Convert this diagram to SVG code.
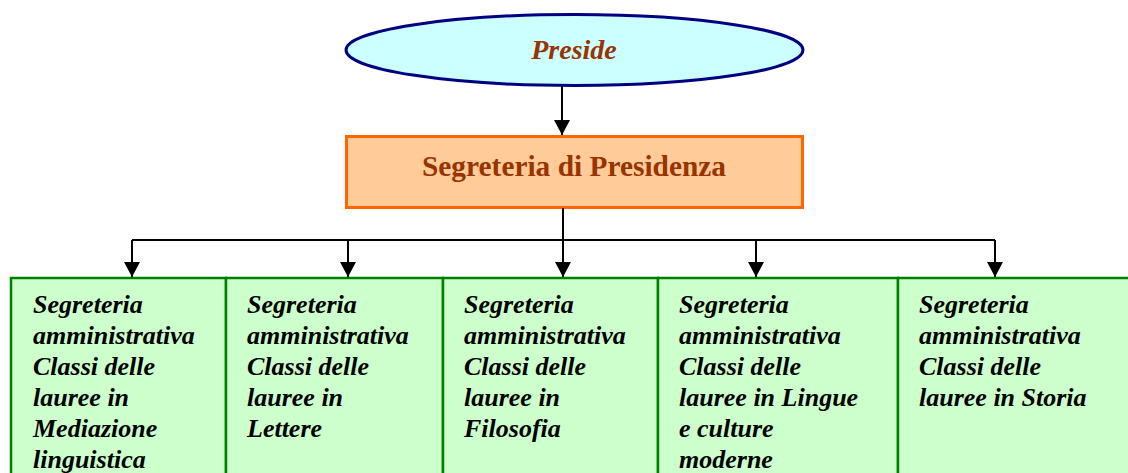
<svg xmlns="http://www.w3.org/2000/svg" width="1128" height="473" viewBox="0 0 1128 473">
<style>
.t{font-family:"Liberation Serif","Times New Roman",serif;font-weight:bold;}
.g{fill:#CCFFCC;stroke:#008000;stroke-width:2.5;}
.lt{font-family:"Liberation Serif","Times New Roman",serif;font-weight:bold;font-style:italic;font-size:26px;fill:#000;}
.c{fill:none;stroke:#000;stroke-width:2;}
</style>
<defs>
<marker id="ah" viewBox="0 0 16 16" markerWidth="16" markerHeight="16" markerUnits="userSpaceOnUse" refX="15" refY="8" orient="auto">
<path d="M0 0 L15 8 L0 16 z" fill="#000"/>
</marker>
</defs>
<rect width="1128" height="473" fill="#fff"/>
<g id="preside">
<ellipse cx="574.5" cy="50" rx="228.5" ry="35.5" fill="#CCFFFF" stroke="#000080" stroke-width="3"/>
<text class="t" x="574" y="59" font-size="28" font-style="italic" fill="#993300" text-anchor="middle">Preside</text>
</g>
<g id="segreteria-presidenza">
<rect x="346.5" y="136.5" width="456" height="71" fill="#FFCC99" stroke="#FF6600" stroke-width="3"/>
<text class="t" x="574" y="176" font-size="29" fill="#993300" text-anchor="middle" textLength="304" lengthAdjust="spacingAndGlyphs">Segreteria di Presidenza</text>
</g>
<g id="connectors">
<path class="c" d="M562 86 V135" marker-end="url(#ah)"/>
<path class="c" d="M563 208 V240 M132 240 H995"/>
<path class="c" d="M132 240 V277" marker-end="url(#ah)"/>
<path class="c" d="M348 240 V277" marker-end="url(#ah)"/>
<path class="c" d="M563 240 V277" marker-end="url(#ah)"/>
<path class="c" d="M756 240 V277" marker-end="url(#ah)"/>
<path class="c" d="M995 240 V277" marker-end="url(#ah)"/>
</g>
<g id="box-mediazione">
<rect class="g" x="11" y="278" width="215" height="210"/>
<text class="lt"><tspan x="33" y="313">Segreteria</tspan><tspan x="33" y="344">amministrativa</tspan><tspan x="33" y="375">Classi delle</tspan><tspan x="33" y="406">lauree in</tspan><tspan x="33" y="437">Mediazione</tspan><tspan x="33" y="468">linguistica</tspan></text>
</g>
<g id="box-lettere">
<rect class="g" x="226" y="278" width="217" height="210"/>
<text class="lt"><tspan x="247" y="313">Segreteria</tspan><tspan x="247" y="344">amministrativa</tspan><tspan x="247" y="375">Classi delle</tspan><tspan x="247" y="406">lauree in</tspan><tspan x="247" y="437">Lettere</tspan></text>
</g>
<g id="box-filosofia">
<rect class="g" x="443" y="278" width="215" height="210"/>
<text class="lt"><tspan x="464" y="313">Segreteria</tspan><tspan x="464" y="344">amministrativa</tspan><tspan x="464" y="375">Classi delle</tspan><tspan x="464" y="406">lauree in</tspan><tspan x="464" y="437">Filosofia</tspan></text>
</g>
<g id="box-lingue">
<rect class="g" x="658" y="278" width="240" height="210"/>
<text class="lt"><tspan x="679" y="313">Segreteria</tspan><tspan x="679" y="344">amministrativa</tspan><tspan x="679" y="375">Classi delle</tspan><tspan x="679" y="406">lauree in Lingue</tspan><tspan x="679" y="437">e culture</tspan><tspan x="679" y="468">moderne</tspan></text>
</g>
<g id="box-storia">
<rect class="g" x="898" y="278" width="250" height="210"/>
<text class="lt"><tspan x="919" y="313">Segreteria</tspan><tspan x="919" y="344">amministrativa</tspan><tspan x="919" y="375">Classi delle</tspan><tspan x="919" y="406">lauree in Storia</tspan></text>
</g>
</svg>
